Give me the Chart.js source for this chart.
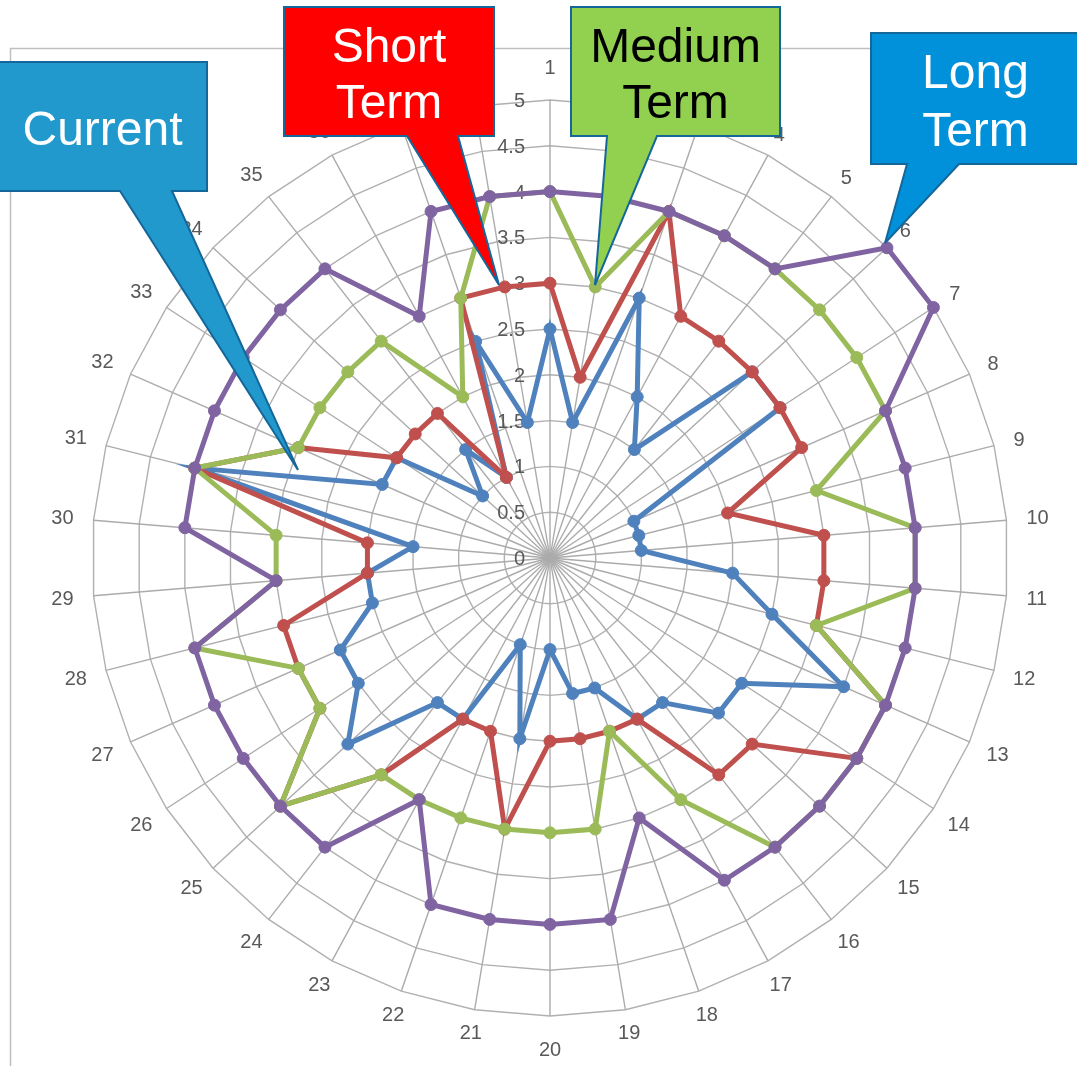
<!DOCTYPE html>
<html>
<head>
<meta charset="utf-8">
<script src="https://cdn.jsdelivr.net/npm/chart.js@4.4.0/dist/chart.umd.min.js"></script>
<style>
  html, body { margin: 0; padding: 0; background: #ffffff; overflow: hidden; }
  #wrap { position: relative; width: 1077px; height: 1066px; }
  #chart { position: absolute; left: 0; top: 0; }
  #overlay { position: absolute; left: 0; top: 0; pointer-events: none; }
  .co { font-family: "Liberation Sans", Arial, sans-serif; font-size: 48px; text-anchor: middle; }
</style>
</head>
<body>
<div id="wrap">
  <canvas id="chart" width="1077" height="1066"></canvas>
  <svg id="overlay" width="1077" height="1066" xmlns="http://www.w3.org/2000/svg">
    <!-- plot frame -->
    <line x1="10.5" y1="48" x2="10.5" y2="1066" stroke="#BFBFBF" stroke-width="1.5"/>
    <line x1="10" y1="48.5" x2="1077" y2="48.5" stroke="#BFBFBF" stroke-width="1.5"/>
    <!-- Current callout -->
    <path d="M-2,62 H207 V191 H172 L298,470 L120,191 H-2 Z" fill="#2199CC" stroke="#156699" stroke-width="2"/>
    <text class="co" x="102.5" y="145" fill="#ffffff">Current</text>
    <!-- Short Term callout -->
    <path d="M284,7 H494 V136 H458 L499,285 L407,136 H284 Z" fill="#FF0000" stroke="#156699" stroke-width="2"/>
    <text class="co" x="389" y="62" fill="#ffffff">Short</text>
    <text class="co" x="389" y="118" fill="#ffffff">Term</text>
    <!-- Medium Term callout -->
    <path d="M571,7 H780 V136 H657 L595,285 L607,136 H571 Z" fill="#92D050" stroke="#156699" stroke-width="2"/>
    <text class="co" x="675.5" y="62" fill="#000000">Medium</text>
    <text class="co" x="675.5" y="118" fill="#000000">Term</text>
    <!-- Long Term callout -->
    <path d="M871,33 H1080 V164 H959 L885,243 L907,164 H871 Z" fill="#0091DA" stroke="#156699" stroke-width="2"/>
    <text class="co" x="975.5" y="88" fill="#ffffff">Long</text>
    <text class="co" x="975.5" y="146" fill="#ffffff">Term</text>
  </svg>
</div>
<script>
// ---- data ----
const categories = ['1','2','3','4','5','6','7','8','9','10','11','12','13','14','15','16','17','18','19',
                    '20','21','22','23','24','25','26','27','28','29','30','31','32','33','34','35','36','37','38'];
const seriesNames = ['Current', 'Short Term', 'Medium Term', 'Long Term'];
const currentValues    = [2.5,1.5,3,2,1.5,3,3,1,1,1,2,2.5,3.5,2.5,2.5,2,2,1.5,1.5,1,2,1,2,2,3,2.5,2.5,2,2,1.5,4,2,2,1,1.5,1,2.5,1.5];
const shortTermValues  = [3,2,4,3,3,3,3,3,2,3,3,3,4,4,3,3,2,2,2,2,3,2,2,3,4,3,3,3,2,2,4,3,2,2,2,1,3,3];
const mediumTermValues = [4,3,4,4,4,4,4,4,3,4,4,3,4,4,4,4,3,2,3,3,3,3,3,3,4,3,3,4,3,3,4,3,3,3,3,2,3,4];
const longTermValues   = [4,4,4,4,4,5,5,4,4,4,4,4,4,4,4,4,4,3,4,4,4,4,3,4,4,4,4,4,3,4,4,4,4,4,4,3,4,4];
const tickLabels = ['0','0.5','1','1.5','2','2.5','3','3.5','4','4.5','5'];

const colors = ['#4F81BD', '#C0504D', '#9BBB59', '#8064A2'];
const seriesValues = [currentValues, shortTermValues, mediumTermValues, longTermValues];

const LABEL_FONT = '20px "Liberation Sans", Arial, sans-serif';
const LABEL_COLOR = '#595959';

const excelLabels = {
  id: 'excelLabels',
  beforeDatasetsDraw(chart) {
    const s = chart.scales.r;
    const ctx = chart.ctx;
    ctx.save();
    ctx.fillStyle = LABEL_COLOR;
    ctx.font = LABEL_FONT;
    ctx.textAlign = 'right';
    ctx.textBaseline = 'middle';
    s.ticks.forEach((t, i) => {
      const d = s.getDistanceFromCenterForValue(t.value);
      const txt = tickLabels[i] !== undefined ? tickLabels[i] : String(t.value);
      ctx.fillText(txt, s.xCenter - 25, s.yCenter - d + 1.5);
    });
    ctx.textAlign = 'center';
    chart.data.labels.forEach((lab, i) => {
      const ang = s.getIndexAngle(i);
      const w = ctx.measureText(lab).width;
      const sn = Math.abs(Math.sin(ang)), cs = Math.abs(Math.cos(ang));
      const d = sn < 1e-6 ? s.drawingArea + 33 : s.drawingArea + 20 + (w / 2) * sn + 1.5 * cs;
      const p = s.getPointPosition(i, d);
      ctx.fillText(lab, p.x, p.y + 1);
    });
    ctx.restore();
  }
};

const datasets = seriesNames.map((name, k) => ({
  label: name,
  data: seriesValues[k],
  borderColor: colors[k],
  backgroundColor: colors[k],
  pointBackgroundColor: colors[k],
  pointBorderColor: colors[k],
  borderWidth: 5,
  pointRadius: 6,
  pointBorderWidth: 1,
  fill: false,
  tension: 0,
  order: 4 - k
}));

new Chart(document.getElementById('chart'), {
  type: 'radar',
  data: { labels: categories, datasets },
  options: {
    responsive: false,
    devicePixelRatio: 1,
    animation: false,
    layout: { padding: { left: 92, right: 69, top: 100, bottom: 50 } },
    plugins: { legend: { display: false }, tooltip: { enabled: false }, title: { display: false } },
    scales: {
      r: {
        min: 0,
        max: 5,
        beginAtZero: true,
        ticks: { display: false, stepSize: 0.5 },
        pointLabels: { display: false },
        grid: { color: '#B0B0B0', lineWidth: 1.4, circular: false },
        angleLines: { color: '#ABABAB', lineWidth: 1.4 }
      }
    }
  },
  plugins: [excelLabels]
});
</script>
</body>
</html>
